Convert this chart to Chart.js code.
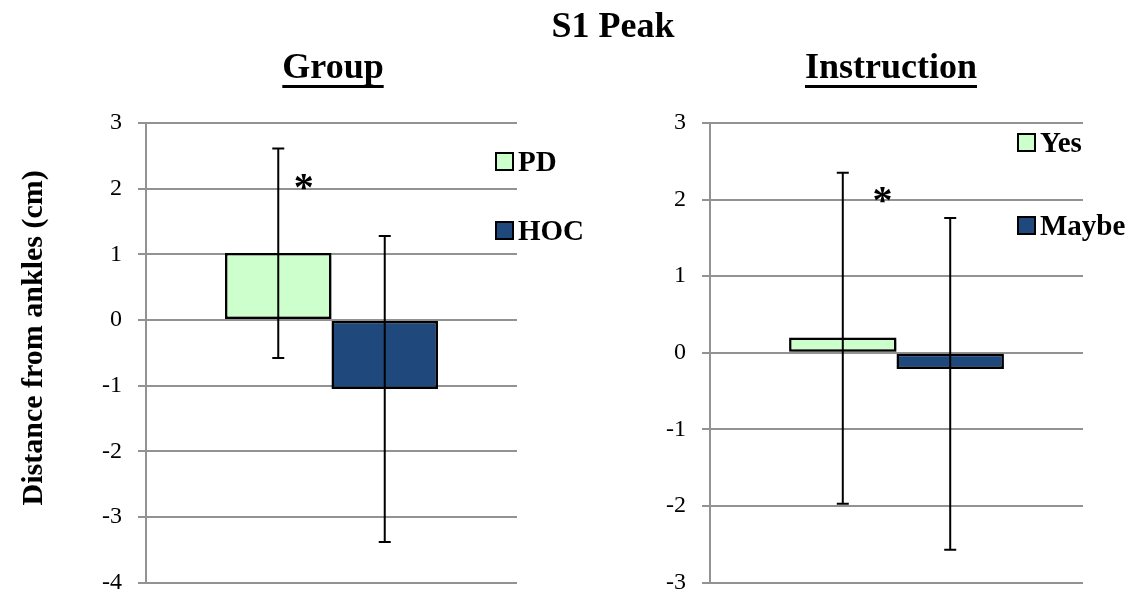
<!DOCTYPE html>
<html>
<head>
<meta charset="utf-8">
<script src="https://cdn.jsdelivr.net/npm/chart.js@4.4.1/dist/chart.umd.min.js"></script>
<style>
  body { margin: 0; background: #fff; }
  #wrap { position: relative; width: 1146px; height: 598px; overflow: hidden; }
  #wrap canvas { position: absolute; left: 0; top: 0; }
  .ttl { position: absolute; font-family: 'Liberation Serif', 'Times New Roman', serif; font-weight: bold;
         font-size: 36px; line-height: 36px; white-space: nowrap; transform: translateX(-50%); color: #000; }
  .ttl.u { text-decoration: underline; text-decoration-thickness: 3px; text-underline-offset: 7px;
           text-decoration-skip-ink: none; }
</style>
</head>
<body>
<div id="wrap">
  <!-- canvases a bit taller than the page: chart.js keeps room for the last tick label -->
  <canvas id="groupChart" width="1146" height="613"></canvas>
  <canvas id="instrChart" width="1146" height="613"></canvas>
  <div class="ttl" style="left:613px; top:7px;">S1 Peak</div>
  <div class="ttl u" style="left:333px; top:48px;">Group</div>
  <div class="ttl u" style="left:891px; top:48px;">Instruction</div>
</div>
<script>
document.addEventListener('DOMContentLoaded', function () {

    // values
    const groupLabels = ['PD', 'HOC'];
    const groupMeans = [1.02, -1.05];
    const groupErrLow = [-0.58, -3.38];
    const groupErrHigh = [2.61, 1.28];

    const instrLabels = ['Yes', 'Maybe'];
    const instrMeans = [0.2, -0.21];
    const instrErrLow = [-1.97, -2.57];
    const instrErrHigh = [2.35, 1.76];

    const groupTicks = [-4, 3];   // min, max
    const instrTicks = [-3, 3];

    const colors = ['#CCFFCC', '#1F497D'];
    const serif = "'Liberation Serif', 'Times New Roman', serif";

    // soft shadow under the bars, like the office chart
    const barShadow = {
        id: 'barShadow',
        beforeDatasetDraw(chart) {
            const ctx = chart.ctx;
            ctx.save();
            ctx.shadowColor = 'rgba(0,0,0,0.35)';
            ctx.shadowBlur = 4;
            ctx.shadowOffsetX = 2;
            ctx.shadowOffsetY = 3;
        },
        afterDatasetDraw(chart) {
            chart.ctx.restore();
        }
    };

    // error bars + asterisk + legend boxes
    const extras = {
        id: 'extras',
        afterDatasetsDraw(chart, args, opts) {
            const ctx = chart.ctx;
            const y = chart.scales.y;
            ctx.save();
            ctx.strokeStyle = '#000';
            ctx.lineWidth = 2;
            chart.data.datasets.forEach(function (ds, i) {
                const bar = chart.getDatasetMeta(i).data[0];
                const top = y.getPixelForValue(ds.errHigh);
                const bot = y.getPixelForValue(ds.errLow);
                ctx.beginPath();
                ctx.moveTo(bar.x, top); ctx.lineTo(bar.x, bot);
                ctx.moveTo(bar.x - 6, top); ctx.lineTo(bar.x + 6, top);
                ctx.moveTo(bar.x - 6, bot); ctx.lineTo(bar.x + 6, bot);
                ctx.stroke();
            });

            // significance star next to first bar
            const first = chart.getDatasetMeta(0).data[0];
            ctx.fillStyle = '#000';
            ctx.font = 'bold 40px ' + serif;
            ctx.textAlign = 'center';
            ctx.textBaseline = 'alphabetic';
            ctx.fillText('*', first.x + first.width * opts.starShift, y.getPixelForValue(opts.starValue) + 20);

            // legend
            ctx.font = 'bold 29px ' + serif;
            ctx.textAlign = 'left';
            chart.data.datasets.forEach(function (ds, i) {
                const cy = opts.legendRows[i];
                ctx.fillStyle = ds.backgroundColor;
                ctx.fillRect(opts.legendX, cy - 8, 17, 17);
                ctx.lineWidth = 2;
                ctx.strokeRect(opts.legendX, cy - 8, 17, 17);
                ctx.fillStyle = '#000';
                ctx.fillText(ds.label, opts.legendX + 22, cy + 10);
            });
            ctx.restore();
        }
    };

    function makeChart(id, labels, means, lows, highs, range, cfg) {
        return new Chart(document.getElementById(id), {
            type: 'bar',
            data: {
                labels: [''],
                datasets: labels.map(function (lab, i) {
                    return {
                        label: lab,
                        data: [means[i]],
                        errLow: lows[i],
                        errHigh: highs[i],
                        backgroundColor: colors[i],
                        borderColor: '#000',
                        borderWidth: 2.5,
                        borderSkipped: false
                    };
                })
            },
            options: {
                responsive: false,
                animation: false,
                datasets: { bar: { categoryPercentage: cfg.catPct, barPercentage: 1 } },
                layout: { padding: cfg.padding },
                plugins: {
                    legend: { display: false },
                    tooltip: { enabled: false },
                    extras: cfg.extras
                },
                scales: {
                    x: { display: false },
                    y: {
                        min: range[0],
                        max: range[1],
                        ticks: { stepSize: 1, padding: 16, color: '#000', font: { family: serif, size: 24 } },
                        grid: { color: '#929292', lineWidth: 2, tickLength: 8 },
                        border: { color: '#929292', width: 2 },
                        title: cfg.title,
                        afterFit: function (scale) { scale.width = cfg.axisWidth; }
                    }
                }
            },
            plugins: [barShadow, extras]
        });
    }

    makeChart('groupChart', groupLabels, groupMeans, groupErrLow, groupErrHigh, groupTicks, {
        catPct: 0.574,
        axisWidth: 146,
        padding: { left: 0, right: 629, top: 123, bottom: 0 },
        title: {
            display: true,
            // leading spaces nudge the title up a little, as in the original
            text: '\u00a0\u00a0\u00a0\u00a0Distance from ankles (cm)',
            color: '#000',
            font: { family: serif, size: 30, weight: 'bold' },
            padding: { top: 16, bottom: 0 }
        },
        extras: { starValue: 2.13, starShift: 0.24, legendX: 496, legendRows: [161, 230] }
    });

    makeChart('instrChart', instrLabels, instrMeans, instrErrLow, instrErrHigh, instrTicks, {
        catPct: 0.576,
        axisWidth: 80,
        padding: { left: 630, right: 63, top: 123, bottom: 0 },
        title: { display: false },
        extras: { starValue: 2.09, starShift: 0.37, legendX: 1018, legendRows: [142, 225] }
    });
});
</script>
</body>
</html>
